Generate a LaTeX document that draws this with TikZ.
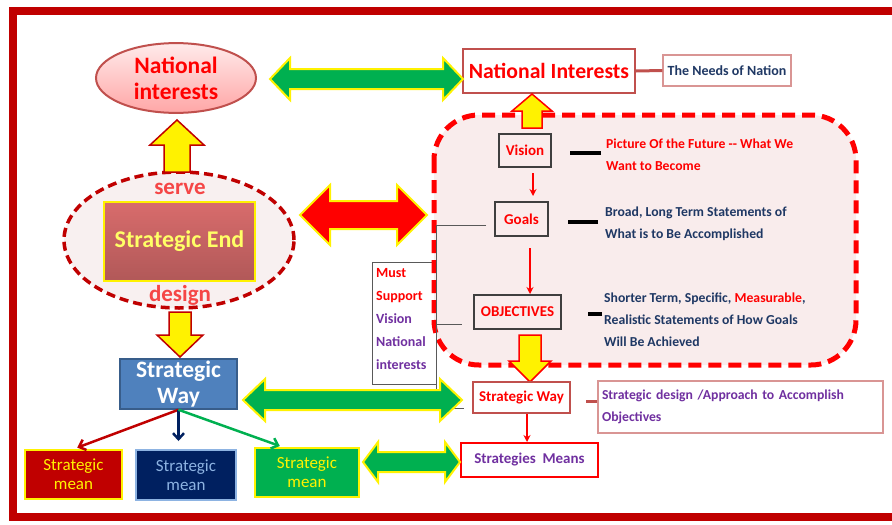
\documentclass[tikz,border=0pt]{standalone}
\usepackage{fontspec}
\setmainfont{Carlito}
\usetikzlibrary{calc, shapes, arrows.meta}
\tikzset{>=latex}
\definecolor{myframe}{RGB}{192, 0, 0}
\definecolor{mybrick}{RGB}{192, 80, 77}
\definecolor{mynavy}{RGB}{31, 56, 100}
\definecolor{mypurple}{RGB}{112, 48, 160}
\definecolor{mygreen}{RGB}{0, 176, 80}
\definecolor{mypink}{RGB}{249, 236, 236}
\definecolor{mypink2}{RGB}{248, 240, 240}
\definecolor{myblue}{RGB}{79, 129, 189}
\definecolor{myblueedge}{RGB}{56, 93, 138}
\definecolor{mydarkblue}{RGB}{0, 32, 96}
\definecolor{mylightblue}{RGB}{141, 179, 226}
\definecolor{mygray}{RGB}{89, 89, 89}
\definecolor{mysoftred}{RGB}{245, 70, 70}
\definecolor{myrose}{RGB}{217, 149, 148}
\definecolor{mypaleyellow}{RGB}{255, 255, 102}
\definecolor{myboxgray}{RGB}{63, 63, 63}

% fat double arrow: style, left tip, right tip, y, head length, half head, half shaft
\newcommand*\fatdouble[7]{%
  \draw[#1] (#2,#4) -- ({#2+#5},{#4-#6}) -- ({#2+#5},{#4-#7}) -- ({#3-#5},{#4-#7})
  -- ({#3-#5},{#4-#6}) -- (#3,#4) -- ({#3-#5},{#4+#6}) -- ({#3-#5},{#4+#7})
  -- ({#2+#5},{#4+#7}) -- ({#2+#5},{#4+#6}) -- cycle;}
% fat vertical arrow: style, x, base y, head y, tip y, half head, half shaft
\newcommand*\fatvert[7]{%
  \draw[#1] ({#2-#7},#3) -- ({#2-#7},#4) -- ({#2-#6},#4) -- (#2,#5)
  -- ({#2+#6},#4) -- ({#2+#7},#4) -- ({#2+#7},#3) -- cycle;}

\tikzset{
  greenarrow/.style = {fill=mygreen, draw=yellow, line width=2pt, line join=miter},
  yellowarrow/.style = {fill=yellow, draw=myframe, line width=1.5pt, line join=miter},
  whitebox/.style = {draw=mybrick, line width=2pt, fill=white, inner sep=0pt, align=center},
  stepbox/.style = {draw=myboxgray, line width=2pt, inner sep=0pt, text=red,
    font=\fontsize{15}{18}\selectfont\bfseries},
  descr/.style = {anchor=north west, align=left, inner sep=0pt,
    font=\fontsize{13.7}{22}\selectfont\bfseries},
  meanbox/.style = {draw=yellow, line width=2pt, inner sep=0pt, align=center,
    font=\fontsize{17}{19}\selectfont},
  dashbar/.style = {line width=4pt}
}

\begin{document}
\begin{tikzpicture}[x=1pt, y=-1pt]
\useasboundingbox (0, 0) rectangle (892, 525);

% outer frame
\draw[myframe, line width=8pt] (892, 11) -- (13, 11) -- (13, 517) -- (892, 517);

% left column
\node[ellipse, draw=mybrick, line width=2pt, top color=red!8, bottom color=red!35,
  minimum width=160pt, minimum height=66pt, text=red, align=center,
  font=\fontsize{23.5}{26}\selectfont\bfseries] (natl) at (176, 78) {National\\interests};

\node[ellipse, draw=myframe, line width=3.5pt, dash pattern=on 9pt off 5pt, fill=mypink2,
  minimum width=230pt, minimum height=136pt] (endell) at (179, 240) {};
\node[text=mysoftred, font=\fontsize{23}{26}\selectfont\bfseries] (serve) at (180, 189) {serve};
\node[text=mysoftred, font=\fontsize{23}{26}\selectfont\bfseries] (design) at (180, 295) {design};
\node[draw=yellow, line width=2pt, top color={rgb,255:red,216;green,108;blue,108},
  bottom color={rgb,255:red,177;green,88;blue,88}, minimum width=151pt, minimum height=79pt,
  text=mypaleyellow, font=\fontsize{24}{28}\selectfont\bfseries] (send) at (179.5, 241.5) {Strategic End};

\fatvert{yellowarrow}{177}{172}{145}{120}{27}{13}
\fatvert{yellowarrow}{180}{312}{335}{357}{23}{11}

\node[fill=myblue, draw=myblueedge, line width=1.5pt, minimum width=117pt, minimum height=50pt,
  inner sep=0pt, text=white, align=center, font=\fontsize{23.5}{26}\selectfont\bfseries]
  (sway) at (178.5, 384) {Strategic\\Way};

\node[meanbox, fill=myframe, text=yellow, minimum width=97pt, minimum height=49pt]
  (mean1) at (73.5, 474.5) {Strategic\\mean};
\node[meanbox, fill=mydarkblue, draw=mylightblue, text=mylightblue, minimum width=100pt, minimum height=50pt]
  (mean2) at (186, 475) {Strategic\\mean};
\node[meanbox, fill=mygreen, text=yellow, minimum width=104pt, minimum height=49pt]
  (mean3) at (307, 472.5) {Strategic\\mean};

\draw[myframe, line width=2.5pt, -{Straight Barb[length=6pt, width=11pt]}, shorten >=4pt]
  (sway.south) -- (mean1.north);
\draw[mydarkblue, line width=2.5pt, -{Straight Barb[length=6pt, width=11pt]}, shorten >=8pt]
  (sway.south) -- (sway.south |- mean2.north);
\draw[mygreen, line width=2.5pt, -{Straight Barb[length=6pt, width=11pt]}, shorten >=3pt]
  (sway.south) -- ($(mean3.north west)!0.27!(mean3.north east)$);

% Must support box
\node[draw=mygray, line width=1pt, fill=white, minimum width=64pt, minimum height=122pt,
  inner sep=0pt] (must) at (404, 323) {};
\node[anchor=west, align=left, inner sep=0pt, font=\fontsize{14}{22.8}\selectfont\bfseries]
  (musttext) at (376, 319) {\textcolor{red}{Must}\\\textcolor{red}{Support}\\
  \textcolor{mypurple}{Vision}\\\textcolor{mypurple}{National}\\\textcolor{mypurple}{interests}};

% dashed region
\draw[red, line width=5pt, dash pattern=on 13pt off 7pt, fill=mypink, rounded corners=45pt]
  (434, 115) rectangle (856, 365);

% right column
\node[whitebox, minimum width=172pt, minimum height=44pt, text=red,
  font=\fontsize{21.7}{25}\selectfont\bfseries] (natI) at (549, 71) {National Interests};
\node[whitebox, draw=myrose, line width=1.2pt, minimum width=128pt, minimum height=31pt,
  text=mynavy, font=\fontsize{14}{18}\selectfont\bfseries] (needs) at (727, 70.5) {The Needs of Nation};
\draw[mybrick, line width=3pt] (natI.east) -- (needs.west);

\node[stepbox, minimum width=52pt, minimum height=33pt] (vision) at (525, 150.5) {Vision};
\node[stepbox, minimum width=53pt, minimum height=34pt] (goals) at (521.5, 219) {Goals};
\node[stepbox, minimum width=87pt, minimum height=34pt] (obj) at (517.5, 312) {OBJECTIVES};

\node[descr, text=red] (visdesc) at (606, 139) {Picture Of the Future -{}- What We\\Want to Become};
\node[descr, text=mynavy] (goaldesc) at (605, 207) {Broad, Long Term Statements of\\What is to Be Accomplished};
\node[descr, text=mynavy] (objdesc) at (604, 293)
  {Shorter Term, Specific, \textcolor{red}{Measurable},\\Realistic Statements of How Goals\\Will Be Achieved};

\draw[dashbar] ($(visdesc.north west)+(-5, 14)$) -- +(-31, 0);
\draw[dashbar] ($(goaldesc.north west)+(-7, 15)$) -- +(-30, 0);
\draw[dashbar] ($(objdesc.north west)+(-2, 21)$) -- +(-14, 0);

\draw[red, line width=1.5pt, -{Stealth[length=7pt, width=7pt]}, shorten <=5pt, shorten >=5pt]
  ([xshift=8pt]vision.south) -- ([xshift=8pt]vision.south |- goals.north);
\draw[red, line width=1.5pt, -{Stealth[length=7pt, width=7pt]}, shorten <=11pt, shorten >=0pt]
  ([xshift=8.5pt]goals.south) -- ([xshift=8.5pt]goals.south |- obj.north);

\fatvert{yellowarrow, draw=red}{532}{128}{111}{94}{20}{10}
\fatvert{yellowarrow, draw=red}{530}{335}{361}{382}{21}{11}

\node[whitebox, minimum width=97pt, minimum height=31pt, text=red,
  font=\fontsize{15}{18}\selectfont\bfseries] (rway) at (521.5, 397.5) {Strategic Way};
\node[whitebox, draw=myrose, line width=1.5pt, minimum width=285pt, minimum height=52pt,
  text width=277pt, align=left, text=mypurple, font=\fontsize{13.7}{22}\selectfont\bfseries]
  (rdesign) at (740.5, 407) {Strategic design /Approach to Accomplish\\Objectives};
\coordinate (rwe) at (rway.east |- 0, 401);
\draw[mybrick, line width=3pt, shorten <=15pt] (rwe) -- (rwe -| rdesign.west);
\node[whitebox, draw=red, minimum width=137pt, minimum height=34pt, text=mypurple,
  font=\fontsize{15}{18}\selectfont\bfseries] (means) at (529.5, 460) {Strategies~~Means};
\draw[red, line width=1.5pt, -{Stealth[length=7pt, width=7pt]}]
  ([xshift=5.5pt]rway.south) -- ([xshift=5.5pt]rway.south |- means.north);

% gray bracket
\coordinate (brtop) at (436, 225);
\coordinate (brbot) at (436, 408);
\draw[mygray, line width=1pt] ([xshift=-8pt]goals.west |- brtop) -- (brtop) -- (brbot)
  -- ([xshift=-8pt]rway.west |- brbot);
\draw[mygray, line width=1pt] (brtop |- 0, 324) -- ([xshift=-11pt]obj.west |- 0, 324);

% block arrows
\fatdouble{greenarrow}{270}{463}{79}{20}{21}{10}
\fatdouble{fill=red, draw=yellow, line width=2pt, line join=miter}{300}{427}{215}{30}{30}{14}
\fatdouble{greenarrow}{243}{462}{400}{22}{21}{10}
\fatdouble{greenarrow}{363}{460}{462}{15}{20}{10}
\end{tikzpicture}
\end{document}
